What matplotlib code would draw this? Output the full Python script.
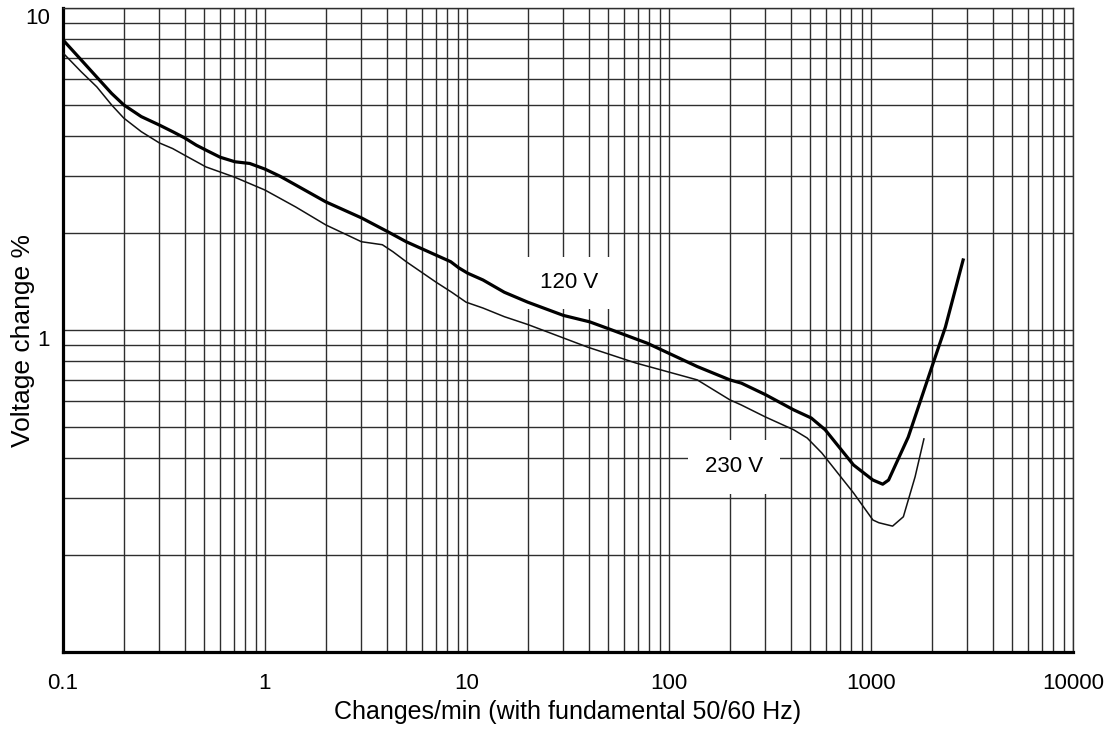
import matplotlib
matplotlib.use("Agg")
import matplotlib.pyplot as plt
from matplotlib.ticker import LogLocator, NullFormatter

plt.rcParams['font.family'] = ['Liberation Sans', 'DejaVu Sans']

# 120 V curve (thick)
x_120 = [0.1, 0.123, 0.147, 0.174, 0.2, 0.244, 0.3, 0.349, 0.4, 0.457, 0.519, 0.6,
         0.71, 0.84, 1.0, 1.19, 1.42, 2, 3, 4.05, 5, 7, 8.3, 9.1, 10.1, 12, 15.3,
         20, 30, 40.5, 50, 78, 138, 200, 228, 300, 414, 506, 593, 819, 1022, 1143,
         1222, 1529, 2000, 2334, 2858]
y_120 = [7.96, 6.90, 6.1, 5.43, 5.0, 4.60, 4.33, 4.13, 3.95, 3.75, 3.60, 3.44,
         3.33, 3.29, 3.16, 3.0, 2.82, 2.5, 2.23, 2.02, 1.88, 1.71, 1.63, 1.56, 1.50,
         1.43, 1.31, 1.22, 1.11, 1.06, 1.01, 0.91, 0.77, 0.70, 0.684, 0.63, 0.565,
         0.533, 0.49, 0.381, 0.342, 0.332, 0.342, 0.465, 0.767, 1.02, 1.65]

# 230 V curve (thin)
x_230 = [0.1, 0.123, 0.147, 0.174, 0.2, 0.244, 0.3, 0.349, 0.4, 0.51, 0.71, 1.0,
         1.42, 2, 3, 3.38, 3.81, 4.3, 5, 7, 8.4, 9.9, 12, 15.3, 20, 39.5, 68.4,
         138, 200, 228, 300, 414, 483, 571, 819, 1022, 1094, 1279, 1446, 1653, 1828]
y_230 = [7.25, 6.34, 5.69, 5.0, 4.55, 4.13, 3.81, 3.66, 3.49, 3.21, 2.98, 2.72,
         2.41, 2.12, 1.88, 1.86, 1.84, 1.75, 1.63, 1.41, 1.31, 1.22, 1.17, 1.10,
         1.04, 0.885, 0.79, 0.70, 0.607, 0.585, 0.537, 0.49, 0.462, 0.415, 0.312,
         0.257, 0.252, 0.246, 0.263, 0.35, 0.459]

xticks = [0.1, 1, 10, 100, 1000, 10000]
xtick_labels = ['0.1', '1', '10', '100', '1000', '10000']
yticks = [1, 10]
ytick_labels = ['1', '10']

grid_col = '#2e2e2e'

fig = plt.figure(figsize=(11.05, 7.38), dpi=100)
ax = fig.add_axes([63 / 1105, 1 - 652 / 738, 1010 / 1105, 644 / 738])
ax.set_xscale('log')
ax.set_yscale('log')
ax.set_xlim(0.1, 10000)
ax.set_ylim(0.1, 10)

ax.plot(x_120, y_120, color='black', lw=2.3, zorder=3, solid_joinstyle='round')
ax.plot(x_230, y_230, color='#111111', lw=1.1, zorder=3, solid_joinstyle='round')

ax.set_xticks(xticks, xtick_labels)
ax.xaxis.set_minor_locator(LogLocator(base=10, subs=range(2, 10), numticks=20))
ax.xaxis.set_minor_formatter(NullFormatter())
ax.set_yticks(yticks)
ax.yaxis.set_minor_locator(LogLocator(base=10, subs=range(2, 10), numticks=20))
ax.yaxis.set_minor_formatter(NullFormatter())
ax.tick_params(which='both', length=0)
ax.tick_params(axis='x', labelsize=16, pad=15)
ax.set_yticklabels([])

# y tick labels drawn with their top on the line
for v, s in zip(yticks, ytick_labels):
    ax.text(-0.013, v, s, transform=ax.get_yaxis_transform(), ha='right', va='top',
            fontsize=16)

ax.grid(which='both', color=grid_col, lw=1.0, zorder=1)
ax.set_axisbelow(True)

for side in ['left', 'bottom']:
    ax.spines[side].set_linewidth(2.3)
    ax.spines[side].set_color('black')
for side in ['top', 'right']:
    ax.spines[side].set_linewidth(1.0)
    ax.spines[side].set_color(grid_col)

ax.set_xlabel('Changes/min (with fundamental 50/60 Hz)', fontsize=18)
ax.xaxis.set_label_coords(0.5, -0.074)
ax.set_ylabel('Voltage change %', fontsize=19)
ax.yaxis.set_label_coords(-0.028, 0.483)

ax.text(32, 1.40, '120 V', fontsize=16, ha='center', va='center', zorder=2.5,
        bbox=dict(boxstyle='square,pad=0.7', facecolor='white', edgecolor='none'))
ax.text(210, 0.376, '230 V', fontsize=16, ha='center', va='center', zorder=2.5,
        bbox=dict(boxstyle='square,pad=0.75', facecolor='white', edgecolor='none'))

fig.savefig('out.png', dpi=100)
